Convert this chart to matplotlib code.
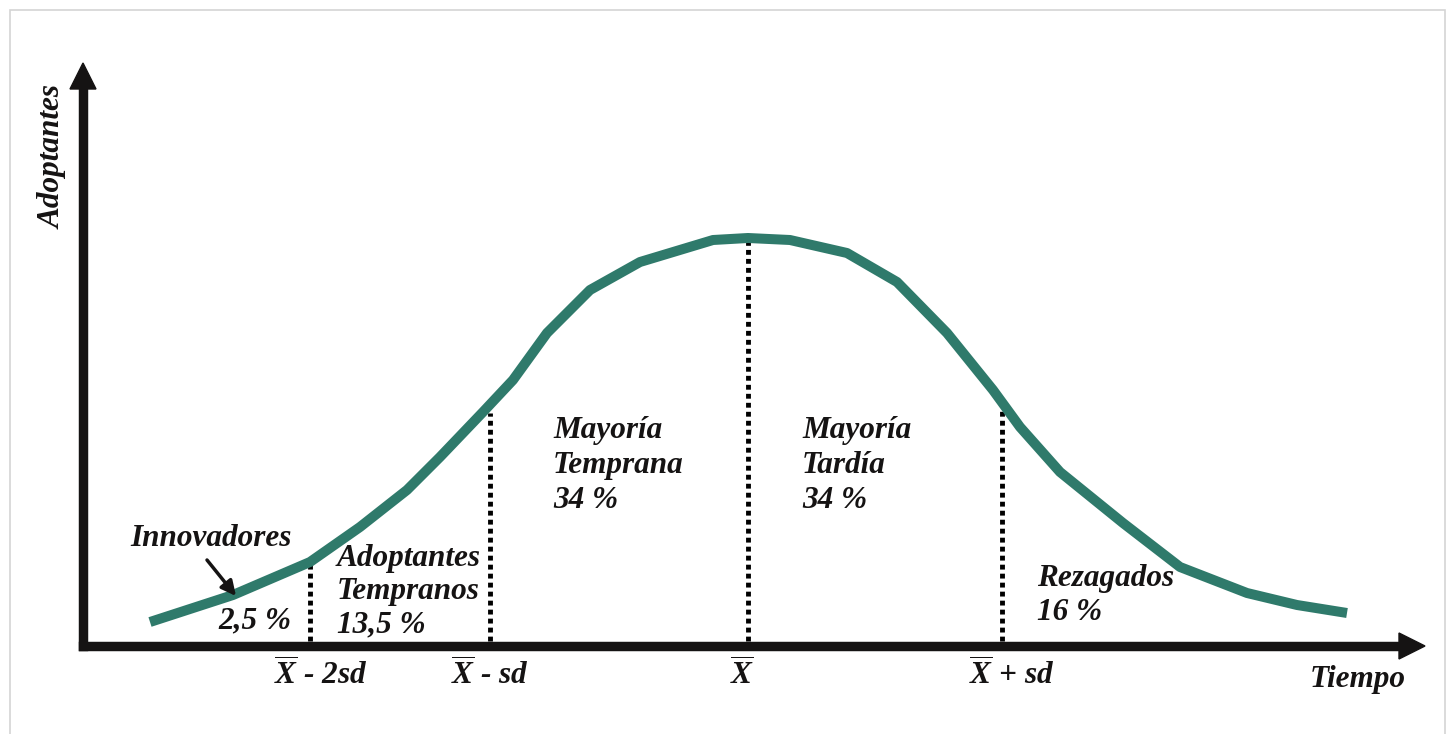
import matplotlib
matplotlib.use("Agg")
import matplotlib.pyplot as plt
from matplotlib.patches import Polygon, Rectangle

plt.rcParams["font.family"] = ["Liberation Serif", "DejaVu Serif"]
plt.rcParams["mathtext.fontset"] = "custom"
plt.rcParams["mathtext.it"] = "Liberation Serif:italic:bold"
plt.rcParams["mathtext.rm"] = "Liberation Serif:italic:bold"
plt.rcParams["mathtext.bf"] = "Liberation Serif:italic:bold"

# curva de adopcion (unidades arbitrarias)
tiempo = [67, 150, 227, 277, 324, 357, 400, 430, 464, 507, 557, 630, 665,
          707, 764, 814, 864, 910, 937, 977, 1040, 1097, 1164, 1214, 1264]
adoptantes = [24, 51, 84, 119, 156, 189, 234, 266, 313, 356, 384, 406, 408,
              406, 393, 364, 313, 256, 219, 174, 123, 79, 53, 41, 33]

# cortes (media y desviaciones)
cortes_x = [227, 407, 665, 919]
cortes_y = [81, 233, 406, 241]
cortes_txt = [r"$\overline{X}$ - 2sd", r"$\overline{X}$ - sd",
              r"$\overline{X}$", r"$\overline{X}$ + sd"]
cortes_dx = [11, 0, -6, 10]

grupos = ["Innovadores", "Adoptantes\nTempranos\n13,5 %",
          "Mayoría\nTemprana\n34 %", "Mayoría\nTardía\n34 %",
          "Rezagados\n16 %"]

verde = "#2f7a6b"
negro = "#151313"
fs = 22.5

fig = plt.figure(figsize=(14.52, 7.34), dpi=100)
ax = fig.add_axes([0, 0, 1, 1])
ax.set_xlim(-83, 1452 - 83)
ax.set_ylim(646 - 734, 646)
ax.axis("off")

# marco gris
ax.add_patch(Rectangle((10 - 83, -120), 1435, 646 - 10 + 120, fill=False,
                       edgecolor="#d4d4d4", lw=1.2))

# ejes con flechas
ax.plot([0, 0], [0, 560], color=negro, lw=6.8, solid_capstyle="projecting")
ax.plot([0, 1318], [0, 0], color=negro, lw=6.8, solid_capstyle="projecting")
ax.add_patch(Polygon([[-13, 557], [13, 557], [0, 583]], closed=True, color=negro))
ax.add_patch(Polygon([[1316, -13], [1316, 13], [1342, 0]], closed=True, color=negro))

# lineas punteadas
for x, y in zip(cortes_x, cortes_y):
    ax.plot([x, x], [5, y], color="black", lw=3.5,
            linestyle=(0, (1.0, 0.85)), dash_capstyle="butt")

# curva
ax.plot(tiempo, adoptantes, color=verde, lw=7.2, solid_capstyle="butt",
        solid_joinstyle="round", zorder=3)

txt = dict(fontsize=fs, fontweight="bold", fontstyle="italic", color=negro)

# etiquetas de ejes
ax.text(-30, 489, "Adoptantes", rotation=90, ha="center", va="center", **txt)
ax.text(1227, -34, "Tiempo", ha="left", va="center", **txt)

# etiquetas en el eje x
for x, dx, t in zip(cortes_x, cortes_dx, cortes_txt):
    ax.text(x + dx, -29, t, ha="center", va="center", **txt)

# grupos
ax.text(47, 122, grupos[0], ha="left", va="top", **txt)
ax.annotate("", xy=(153, 50), xytext=(124, 86),
            arrowprops=dict(arrowstyle="-|>", color=negro, lw=2.5,
                            mutation_scale=22, shrinkA=0, shrinkB=0))
ax.text(135, 40, "2,5 %", ha="left", va="top", **txt)
ax.text(254, 102, grupos[1], ha="left", va="top", linespacing=1.2, **txt)
ax.text(470, 230, grupos[2], ha="left", va="top", linespacing=1.27, **txt)
ax.text(719, 230, grupos[3], ha="left", va="top", linespacing=1.27, **txt)
ax.text(954, 82, grupos[4], ha="left", va="top", linespacing=1.25, **txt)

fig.savefig("out.png", dpi=100)
